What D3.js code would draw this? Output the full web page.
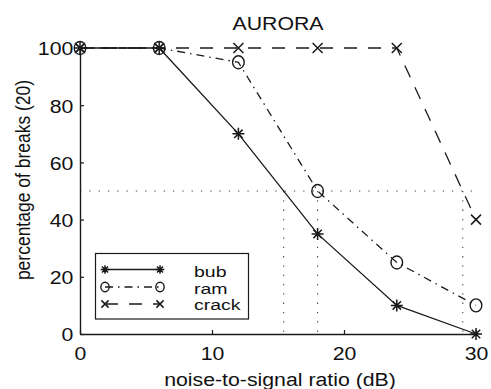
<!DOCTYPE html>
<html><head><meta charset="utf-8">
<script src="https://cdn.jsdelivr.net/npm/d3@7"></script>
<style>body{margin:0;background:#fff}svg{display:block}text{font-family:"Liberation Sans",Arial,sans-serif;fill:#111}</style>
</head><body>
<svg id="c" width="491" height="389"></svg>
<script>
const snr = [0, 6, 12, 18, 24, 30];
const bub = [100, 100, 70, 35, 10, 0];
const ram = [100, 100, 95, 50, 25, 10];
const crack = [100, 100, 100, 100, 100, 40];
const xTicks = [0, 10, 20, 30];
const yTicks = [0, 20, 40, 60, 80, 100];
const crossX = [15.43, 18, 29];
const threshold = 50;
const seriesNames = ["bub", "ram", "crack"];

const svg = d3.select("#c");
const x = d3.scaleLinear().domain([0, 30]).range([80, 476]);
const y = d3.scaleLinear().domain([0, 100]).range([334, 48]);
const col = "#1a1a1a";
const FS = 19, SX = 1.12;

// dotted reference lines
svg.append("line").attr("x1", x(0)).attr("x2", x(30)).attr("y1", y(threshold)).attr("y2", y(threshold))
  .attr("stroke", "#444").attr("stroke-dasharray", "1.3,8").attr("stroke-width", 1.1);
crossX.forEach(v => svg.append("line").attr("x1", x(v)).attr("x2", x(v)).attr("y1", y(threshold)).attr("y2", y(0))
  .attr("stroke", "#444").attr("stroke-dasharray", "1.3,8").attr("stroke-width", 1.1));

// axes
const xa = svg.append("g").attr("transform", `translate(0,${y(0)})`)
  .call(d3.axisBottom(x).tickValues(xTicks).tickSize(-4).tickSizeOuter(0).tickPadding(13));
const ya = svg.append("g").attr("transform", `translate(${x(0)},0)`)
  .call(d3.axisLeft(y).tickValues(yTicks).tickSize(-4).tickSizeOuter(0).tickPadding(6));
[xa, ya].forEach(a => {
  a.select(".domain").attr("stroke", col).attr("stroke-width", 1.4);
  a.selectAll(".tick line").attr("stroke", col).attr("stroke-width", 1.2);
  a.selectAll("text").attr("font-size", FS).style("font-family", '"Liberation Sans",Arial,sans-serif')
    .attr("fill", "#111").attr("transform", `scale(${SX},1)`);
});
ya.selectAll("text").attr("dy", "0.36em");

const line = d3.line().x(d => x(d[0])).y(d => y(d[1]));
const dashes = ["", "8,5,1.5,5", "13,11"];
const sets = [bub, ram, crack];

function marker(g, kind, cx, cy, s) {
  s = s || 1;
  if (kind === 0) {
    const r = 6 * s;
    g.append("path").attr("d", `M${cx-r},${cy}H${cx+r}M${cx},${cy-r}V${cy+r}M${cx-r*0.7},${cy-r*0.7}L${cx+r*0.7},${cy+r*0.7}M${cx-r*0.7},${cy+r*0.7}L${cx+r*0.7},${cy-r*0.7}`)
      .attr("stroke", col).attr("stroke-width", 1.5).attr("fill", "none");
  } else if (kind === 1) {
    g.append("ellipse").attr("cx", cx).attr("cy", cy).attr("rx", 5.8 * s).attr("ry", 6.5 * s).attr("stroke", col).attr("stroke-width", 1.4).attr("fill", "none");
  } else {
    const r = 5 * s;
    g.append("path").attr("d", `M${cx-r},${cy-r}L${cx+r},${cy+r}M${cx-r},${cy+r}L${cx+r},${cy-r}`)
      .attr("stroke", col).attr("stroke-width", 1.5).attr("fill", "none");
  }
}

sets.forEach((vals, i) => {
  const data = snr.map((s, j) => [s, vals[j]]);
  svg.append("path").datum(data).attr("d", line).attr("fill", "none").attr("stroke", col)
    .attr("stroke-width", 1.3).attr("stroke-dasharray", dashes[i] || null);
  const g = svg.append("g");
  data.forEach(d => marker(g, i, x(d[0]), y(d[1])));
});

// title and labels
function stext(xp, yp, s, fs, anchor) {
  return svg.append("text").attr("transform", `translate(${xp},${yp}) scale(${SX},1)`)
    .attr("text-anchor", anchor || "middle").attr("font-size", fs).text(s);
}
stext(278, 30, "AURORA", FS);
stext(280, 386, "noise-to-signal ratio (dB)", FS);
svg.append("text").attr("transform", `translate(30,180) scale(${SX},1) rotate(-90)`)
  .attr("text-anchor", "middle").attr("font-size", 17.5).text("percentage of breaks (20)");

// legend
const lg = svg.append("g");
lg.append("rect").attr("x", 95.5).attr("y", 253.5).attr("width", 153).attr("height", 65.5).attr("fill", "#fff").attr("stroke", col).attr("stroke-width", 1.2);
const markY = [269.5, 287, 304];
const textY = [276.8, 293.6, 310.4];
const LSX = 1.3;
seriesNames.forEach((n, i) => {
  const ly = markY[i];
  lg.append("line").attr("x1", 105).attr("x2", 160).attr("y1", ly).attr("y2", ly).attr("stroke", col).attr("stroke-width", 1.3)
    .attr("stroke-dasharray", dashes[i] || null);
  marker(lg, i, 105, ly, 0.72);
  marker(lg, i, 160, ly, 0.72);
  lg.append("text").attr("transform", `translate(194,${textY[i]}) scale(${LSX},1)`).attr("font-size", 15).text(n);
});
</script>
</body></html>
